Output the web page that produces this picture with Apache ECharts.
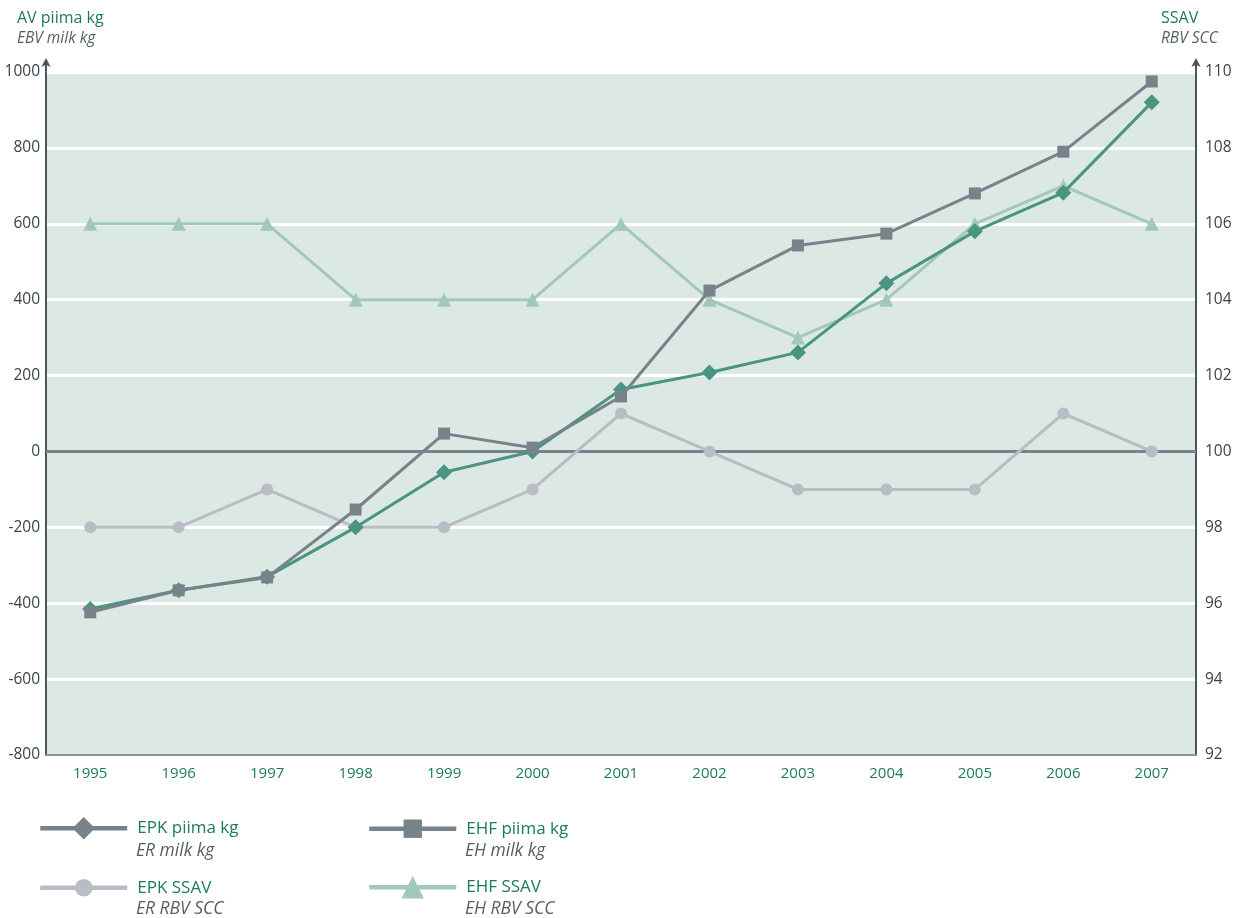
<!DOCTYPE html>
<html><head><meta charset="utf-8">
<script src="https://cdn.jsdelivr.net/npm/echarts@6/dist/echarts.min.js"></script>
<style>html,body{margin:0;padding:0;background:#fff}#c{width:1238px;height:918px}</style>
</head><body><div id="c"></div>
<script>
const years = ['1995','1996','1997','1998','1999','2000','2001','2002','2003','2004','2005','2006','2007'];
const epkMilk = [-415, -366, -330, -200, -55, 0, 163, 208, 261, 443, 580, 682, 920];
const ehfMilk = [-424, -366, -332, -153, 47, 10, 145, 424, 543, 574, 680, 790, 975];
const epkScc = [98, 98, 99, 98, 98, 99, 101, 100, 99, 99, 99, 101, 100];
const ehfScc = [106, 106, 106, 104, 104, 104, 106, 104, 103, 104, 106, 107, 106];

const FONT = '"Open Sans", "Noto Sans", sans-serif';
const TEAL_TXT = '#1d7a5f';
const C_EPK = '#4a9482', C_EHF = '#77828b', C_EPKS = '#b9bcc4', C_EHFS = '#a2c8bb';
const AXIS = '#4a555e';

const chart = echarts.init(document.getElementById('c'));

function legendBox(name, color, left, cy, h) {
  return {
    data: [{name: name, itemStyle: {color: color}, lineStyle: {color: color, width: 4.5}}],
    left: left, top: cy - h / 2 + 3, orient: 'horizontal', padding: 0,
    itemWidth: 87, itemHeight: h, itemGap: 0,
    selectedMode: false,
    textStyle: {color: TEAL_TXT, fontSize: 17, fontFamily: FONT, padding: [0,0,0,5]}
  };
}
function sub(text, x, cy) {
  return {type: 'text', left: x, top: cy - 8, style: {text: text, fill: '#555e66', font: 'italic 17.5px ' + FONT}};
}

chart.setOption({
  backgroundColor: '#fff',
  animation: false,
  title: [
    {text: 'AV piima kg', subtext: 'EBV milk kg', left: 12, top: 5, itemGap: 5,
     textStyle: {color: TEAL_TXT, fontSize: 16, fontWeight: 'normal', fontFamily: FONT},
     subtextStyle: {color: '#555e66', fontSize: 15.5, fontStyle: 'italic', fontFamily: FONT}},
    {text: 'SSAV', subtext: 'RBV SCC', left: 1156, top: 5, itemGap: 5,
     textStyle: {color: TEAL_TXT, fontSize: 16, fontWeight: 'normal', fontFamily: FONT},
     subtextStyle: {color: '#555e66', fontSize: 15.5, fontStyle: 'italic', fontFamily: FONT}}
  ],
  grid: {left: 46, right: 42, top: 72, bottom: 163, show: true, backgroundColor: '#dce8e4', borderWidth: 0},
  legend: [
    legendBox('EPK piima kg', C_EHF, 38, 828, 28),
    legendBox('EHF piima kg', C_EHF, 367, 828, 23),
    legendBox('EPK SSAV', C_EPKS, 38, 887, 22),
    legendBox('EHF SSAV', C_EHFS, 367, 887, 28)
  ],
  graphic: [
    sub('ER milk kg', 136, 850),
    sub('EH milk kg', 465, 850),
    sub('ER RBV SCC', 136, 908),
    sub('EH RBV SCC', 465, 908),
    {type: 'line', shape: {x1: 46, y1: 60, x2: 46, y2: 72}, style: {stroke: AXIS, lineWidth: 2}},
    {type: 'line', shape: {x1: 1196, y1: 60, x2: 1196, y2: 72}, style: {stroke: AXIS, lineWidth: 2}}
  ],
  xAxis: {
    type: 'category', data: years, boundaryGap: true,
    axisLine: {onZero: false, lineStyle: {color: '#8a939a', width: 2}},
    axisTick: {show: false},
    axisLabel: {color: TEAL_TXT, fontSize: 15, fontFamily: FONT, margin: 11},
    splitLine: {show: false}
  },
  yAxis: [
    {type: 'value', min: -800, max: 1000, interval: 200,
     axisLine: {show: true, lineStyle: {color: AXIS, width: 2}, symbol: ['none', 'arrow'], symbolSize: [7, 9], symbolOffset: [0, 14]},
     axisTick: {show: false},
     axisLabel: {color: '#3a434b', fontSize: 15.5, fontFamily: FONT, margin: 6, formatter: v => String(v)},
     splitLine: {show: true, lineStyle: {color: '#ffffff', width: 3}}},
    {type: 'value', min: 92, max: 110, interval: 2, position: 'right',
     axisLine: {show: true, lineStyle: {color: AXIS, width: 2}, symbol: ['none', 'arrow'], symbolSize: [7, 9], symbolOffset: [0, 14]},
     axisTick: {show: false},
     axisLabel: {color: '#3a434b', fontSize: 15.5, fontFamily: FONT, margin: 9, formatter: v => String(v)},
     splitLine: {show: false}}
  ],
  series: [
    {name: 'EHF SSAV', type: 'line', yAxisIndex: 1, data: ehfScc, z: 2,
     symbol: 'triangle', symbolSize: 14, color: C_EHFS,
     lineStyle: {width: 3, color: C_EHFS}, itemStyle: {color: C_EHFS}},
    {name: 'EPK SSAV', type: 'line', yAxisIndex: 1, data: epkScc, z: 3,
     symbol: 'circle', symbolSize: 12, color: C_EPKS,
     lineStyle: {width: 3, color: C_EPKS}, itemStyle: {color: C_EPKS}},
    {name: 'EPK piima kg', type: 'line', yAxisIndex: 0, data: epkMilk, z: 4,
     symbol: 'diamond', symbolSize: 16, color: C_EPK,
     lineStyle: {width: 3, color: C_EPK}, itemStyle: {color: C_EPK}},
    {name: 'EHF piima kg', type: 'line', yAxisIndex: 0, data: ehfMilk, z: 5,
     symbol: 'rect', symbolSize: 12, color: C_EHF,
     lineStyle: {width: 3, color: C_EHF}, itemStyle: {color: C_EHF},
     markLine: {silent: true, symbol: 'none', label: {show: false}, z: 1,
       lineStyle: {color: C_EHF, width: 3, type: 'solid'}, data: [{yAxis: 0}]}}
  ]
});
</script></body></html>
